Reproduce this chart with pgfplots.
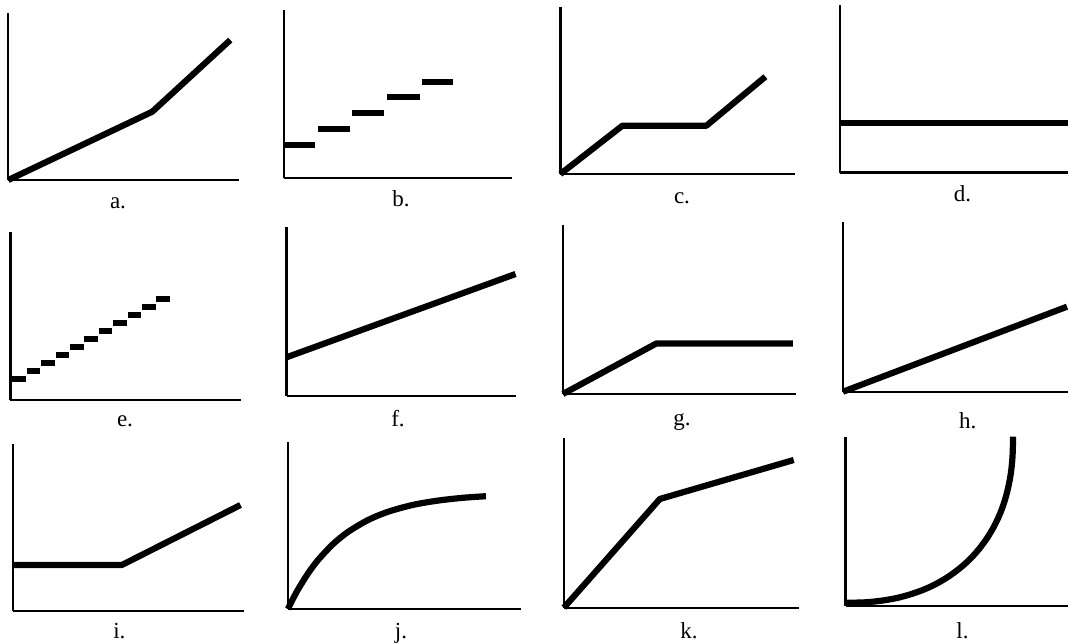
\documentclass[border=0pt]{standalone}
\usepackage{fontspec}
\setmainfont{Liberation Serif}
\usepackage{pgfplots}
\pgfplotsset{compat=1.18}

% one reference pixel = 0.5pt
\pgfplotsset{
  panel/.style={
    scale only axis, anchor=south west,
    axis x line=bottom, axis y line=left,
    axis line style={-, line width=1.2pt, black},
    xtick=\empty, ytick=\empty,
    xmin=0, ymin=0, clip=false,
    cycle list={{black}},
    every axis plot/.append style={black, line width=3.1pt, line join=round, no marks},
  },
}
\tikzset{
  lab/.style={font=\fontsize{11.5}{13}\selectfont, anchor=base},
  stair/.style={line cap=butt},
}

\begin{document}
\begin{tikzpicture}
\useasboundingbox (0,0) rectangle (535pt,321.5pt);

% ---- row 1 ----
% a
\begin{axis}[panel, at={(4.15pt,231.5pt)}, width=115.35pt, height=83.35pt, xmax=230.7, ymax=166.7]
  \addplot coordinates {(0,0) (144,68.3) (222,140)};
  \node[lab] at (axis cs:109.7,-29) {a.};
\end{axis}
% b
\begin{axis}[panel, at={(142pt,232.35pt)}, width=114pt, height=84.15pt, xmax=228, ymax=168.3]
  \addplot[stair] coordinates {(1,33.3) (31,33.3)};
  \addplot[stair] coordinates {(34,49.3) (66,49.3)};
  \addplot[stair] coordinates {(68,65) (100,65)};
  \addplot[stair] coordinates {(103,81) (136,81)};
  \addplot[stair] coordinates {(138,96.6) (169,96.6)};
  \node[lab] at (axis cs:117,-28.7) {b.};
\end{axis}
% c
\begin{axis}[panel, at={(280.2pt,234.5pt)}, width=117.15pt, height=83.65pt, xmax=234.3, ymax=167.3]
  \addplot coordinates {(0,0) (62,48.3) (146,48.3) (205,97.3)};
  \node[lab] at (axis cs:121.6,-30) {c.};
\end{axis}
% d
\begin{axis}[panel, at={(419.85pt,235.15pt)}, width=114.15pt, height=83.85pt, xmax=228.3, ymax=167.7]
  \addplot coordinates {(0,50) (228,50)};
  \node[lab] at (axis cs:122.8,-29.3) {d.};
\end{axis}

% ---- row 2 ----
% e
\begin{axis}[panel, at={(5.2pt,121.5pt)}, width=115.05pt, height=84.15pt, xmax=230.1, ymax=168.3]
  \addplot[stair] coordinates {(2,20.7) (15.6,20.7)};
  \addplot[stair] coordinates {(16.4,28.7) (30,28.7)};
  \addplot[stair] coordinates {(30.8,36.7) (44.4,36.7)};
  \addplot[stair] coordinates {(45.2,44.7) (58.8,44.7)};
  \addplot[stair] coordinates {(59.6,52.7) (73.2,52.7)};
  \addplot[stair] coordinates {(74,60.7) (87.6,60.7)};
  \addplot[stair] coordinates {(88.4,68.7) (102,68.7)};
  \addplot[stair] coordinates {(102.8,76.7) (116.4,76.7)};
  \addplot[stair] coordinates {(117.2,84.7) (130.8,84.7)};
  \addplot[stair] coordinates {(131.6,92.7) (145.2,92.7)};
  \addplot[stair] coordinates {(146,100.7) (159.6,100.7)};
  \node[lab] at (axis cs:114.6,-26) {e.};
\end{axis}
% f
\begin{axis}[panel, at={(143.25pt,123.5pt)}, width=114.75pt, height=84.35pt, xmax=229.5, ymax=168.7]
  \addplot coordinates {(0,38.7) (229,122)};
  \node[lab] at (axis cs:111.5,-30) {f.};
\end{axis}
% g
\begin{axis}[panel, at={(281.45pt,124.5pt)}, width=116.75pt, height=84.5pt, xmax=233.5, ymax=169]
  \addplot coordinates {(0,0) (93.4,50.5) (230,50.5)};
  \node[lab] at (axis cs:119.1,-32) {g.};
\end{axis}
% h
\begin{axis}[panel, at={(421.5pt,125.65pt)}, width=112.5pt, height=84.7pt, xmax=225, ymax=169.4]
  \addplot coordinates {(0,0) (224,85)};
  \node[lab] at (axis cs:124.7,-36.3) {h.};
\end{axis}

% ---- row 3 ----
% i
\begin{axis}[panel, at={(6.55pt,16pt)}, width=115.45pt, height=83.35pt, xmax=230.9, ymax=166.7]
  \addplot coordinates {(0,46) (108.7,46) (227.4,106)};
  \node[lab] at (axis cs:106.3,-27) {i.};
\end{axis}
% j
\begin{axis}[panel, at={(143.95pt,17pt)}, width=116.45pt, height=83.65pt, xmax=232.9, ymax=167.3]
  \addplot[smooth] coordinates {
    (0,0) (4,8.1) (10,19.3) (20,35.4) (30,48.8) (45,64.8) (60,77)
    (80,88.9) (100,97.2) (125,104.1) (150,108.4) (175,111.2) (198,112.8)};
  \node[lab] at (axis cs:113.1,-29) {j.};
\end{axis}
% k
\begin{axis}[panel, at={(281.95pt,17.65pt)}, width=117.65pt, height=84.7pt, xmax=235.3, ymax=169.4]
  \addplot coordinates {(0,0) (95.9,108.7) (229.8,147.7)};
  \node[lab] at (axis cs:125.1,-30.3) {k.};
\end{axis}
% l
\begin{axis}[panel, at={(422.8pt,18.65pt)}, width=111.2pt, height=84.5pt, xmax=222.4, ymax=169]
  \addplot[smooth] coordinates {
    (0,2.9) (20,3.4) (36.5,5.1) (51.7,7.8) (65.9,11.7) (79.2,16.5)
    (91.6,22.4) (103.3,29.4) (114,37.3) (123.9,46.1) (132.8,55.9)
    (140.8,66.6) (147.8,78.1) (153.8,90.5) (158.7,103.7) (162.5,117.8)
    (165.3,132.8) (166.9,149.1) (167.5,169)};
  \node[lab] at (axis cs:116.9,-32.3) {l.};
\end{axis}
\end{tikzpicture}
\end{document}
